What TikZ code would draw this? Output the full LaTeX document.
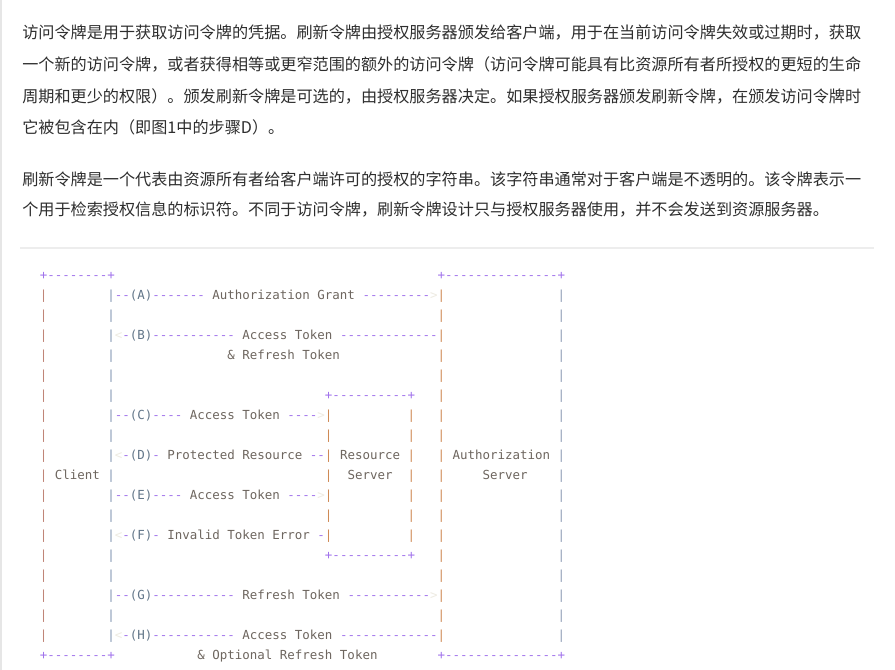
\documentclass[tikz,border=0pt]{standalone}
\usepackage{fontspec}
\setmonofont{DejaVu Sans Mono}
\newfontfamily\cjkfont{Noto Sans CJK SC}
\usepackage{xcolor}
\definecolor{bodytext}{HTML}{2E2E2E}
\definecolor{dashc}{HTML}{A173EC}
\definecolor{wordc}{HTML}{6E665F}
\definecolor{stepc}{HTML}{627689}
\definecolor{tipc}{HTML}{EEEBE2}
\definecolor{barl}{HTML}{C08578}
\definecolor{barr}{HTML}{8296B2}
\definecolor{baro}{HTML}{CF8A55}
\definecolor{barg}{HTML}{8E9DB6}
\definecolor{rulec}{HTML}{EDEDED}
\definecolor{edgec}{HTML}{E6E6E6}

\newcommand\codesize{\fontsize{9.35pt}{15pt}\selectfont}
\newlength\cw
\AtBeginDocument{\settowidth{\cw}{\ttfamily\codesize 0}}
\newcommand\gap[1]{\hspace*{#1\cw}}
\newcommand\dd[1]{\textcolor{dashc}{#1}}
\newcommand\lb[1]{\textcolor{wordc}{#1}}
\newcommand\stp[1]{\textcolor{stepc}{#1}}
\newcommand\tp[1]{\textcolor{tipc}{#1}}
\newcommand\bl{\textcolor{barl}{|}}
\newcommand\br{\textcolor{barr}{|}}
\newcommand\bo{\textcolor{baro}{|}}
\newcommand\bg{\textcolor{barg}{|}}
\newcommand\plainrow{\gap{2}\bl\gap{8}\br\gap{43}\bo\gap{15}\bg}
\newcommand\rsrow{\gap{2}\bl\gap{8}\br\gap{28}\bo\gap{10}\bo\gap{3}\bo\gap{15}\bg}

\tikzset{
  codeline/.style={anchor=base west, inner sep=0pt, font=\ttfamily\codesize},
  paraline/.style={anchor=base west, inner sep=0pt, text=bodytext,
    font=\cjkfont\fontsize{12.1pt}{16pt}\selectfont}
}

\begin{document}
\begin{tikzpicture}[x=0.75pt, y=-0.75pt]
  \useasboundingbox (0,0) rectangle (895,670);
  \fill[white] (0,0) rectangle (895,670);
  \fill[edgec] (0,0) rectangle (2,670);

  % Text above the figure
  \node[paraline] (intro1) at (22,38.5) {访问令牌是用于获取访问令牌的凭据。刷新令牌由授权服务器颁发给客户端，用于在当前访问令牌失效或过期时，获取};
  \node[paraline] (intro2) at (22,70.5) {一个新的访问令牌，或者获得相等或更窄范围的额外的访问令牌（访问令牌可能具有比资源所有者所授权的更短的生命};
  \node[paraline] (intro3) at (22,103) {周期和更少的权限）。颁发刷新令牌是可选的，由授权服务器决定。如果授权服务器颁发刷新令牌，在颁发访问令牌时};
  \node[paraline] (intro4) at (22,133.5) {它被包含在内（即图1中的步骤D）。};
  \node[paraline] (note1) at (22,186) {刷新令牌是一个代表由资源所有者给客户端许可的授权的字符串。该字符串通常对于客户端是不透明的。该令牌表示一};
  \node[paraline] (note2) at (22,216) {个用于检索授权信息的标识符。不同于访问令牌，刷新令牌设计只与授权服务器使用，并不会发送到资源服务器。};

  % Separator
  \draw[rulec, line width=1.2pt] (20,248) -- (874,248);

  % Flow figure, one row per line
  \node[codeline] (row0) at (24.5,279) {\gap{2}\dd{+--------+}\gap{43}\dd{+---------------+}};
  \node[codeline] (row1) at (24.5,299) {\gap{2}\bl\gap{8}\br\dd{--}\stp{(A)}\dd{-------}\gap{1}\lb{Authorization Grant}\gap{1}\dd{---------}\tp{>}\bo\gap{15}\bg};
  \node[codeline] (row2) at (24.5,319) {\plainrow};
  \node[codeline] (row3) at (24.5,339) {\gap{2}\bl\gap{8}\br\tp{<}\dd{-}\stp{(B)}\dd{-----------}\gap{1}\lb{Access Token}\gap{1}\dd{-------------}\bo\gap{15}\bg};
  \node[codeline] (row4) at (24.5,359) {\gap{2}\bl\gap{8}\br\gap{15}\lb{\& Refresh Token}\gap{13}\bo\gap{15}\bg};
  \node[codeline] (row5) at (24.5,379) {\plainrow};
  \node[codeline] (row6) at (24.5,399) {\gap{2}\bl\gap{8}\br\gap{28}\dd{+----------+}\gap{3}\bo\gap{15}\bg};
  \node[codeline] (row7) at (24.5,419) {\gap{2}\bl\gap{8}\br\dd{--}\stp{(C)}\dd{----}\gap{1}\lb{Access Token}\gap{1}\dd{----}\tp{>}\bo\gap{10}\bo\gap{3}\bo\gap{15}\bg};
  \node[codeline] (row8) at (24.5,439) {\rsrow};
  \node[codeline] (row9) at (24.5,459) {\gap{2}\bl\gap{8}\br\tp{<}\dd{-}\stp{(D)}\dd{-}\gap{1}\lb{Protected Resource}\gap{1}\dd{--}\bo\gap{1}\lb{Resource}\gap{1}\bo\gap{3}\bo\gap{1}\lb{Authorization}\gap{1}\bg};
  \node[codeline] (row10) at (24.5,479) {\gap{2}\bl\gap{1}\lb{Client}\gap{1}\br\gap{28}\bo\gap{2}\lb{Server}\gap{2}\bo\gap{3}\bo\gap{5}\lb{Server}\gap{4}\bg};
  \node[codeline] (row11) at (24.5,499) {\gap{2}\bl\gap{8}\br\dd{--}\stp{(E)}\dd{----}\gap{1}\lb{Access Token}\gap{1}\dd{----}\tp{>}\bo\gap{10}\bo\gap{3}\bo\gap{15}\bg};
  \node[codeline] (row12) at (24.5,519) {\rsrow};
  \node[codeline] (row13) at (24.5,539) {\gap{2}\bl\gap{8}\br\tp{<}\dd{-}\stp{(F)}\dd{-}\gap{1}\lb{Invalid Token Error}\gap{1}\dd{-}\bo\gap{10}\bo\gap{3}\bo\gap{15}\bg};
  \node[codeline] (row14) at (24.5,559) {\gap{2}\bl\gap{8}\br\gap{28}\dd{+----------+}\gap{3}\bo\gap{15}\bg};
  \node[codeline] (row15) at (24.5,579) {\plainrow};
  \node[codeline] (row16) at (24.5,599) {\gap{2}\bl\gap{8}\br\dd{--}\stp{(G)}\dd{-----------}\gap{1}\lb{Refresh Token}\gap{1}\dd{-----------}\tp{>}\bo\gap{15}\bg};
  \node[codeline] (row17) at (24.5,619) {\plainrow};
  \node[codeline] (row18) at (24.5,639) {\gap{2}\bl\gap{8}\br\tp{<}\dd{-}\stp{(H)}\dd{-----------}\gap{1}\lb{Access Token}\gap{1}\dd{-------------}\bo\gap{15}\bg};
  \node[codeline] (row19) at (24.5,659) {\gap{2}\dd{+--------+}\gap{11}\lb{\& Optional Refresh Token}\gap{8}\dd{+---------------+}};
\end{tikzpicture}
\end{document}
